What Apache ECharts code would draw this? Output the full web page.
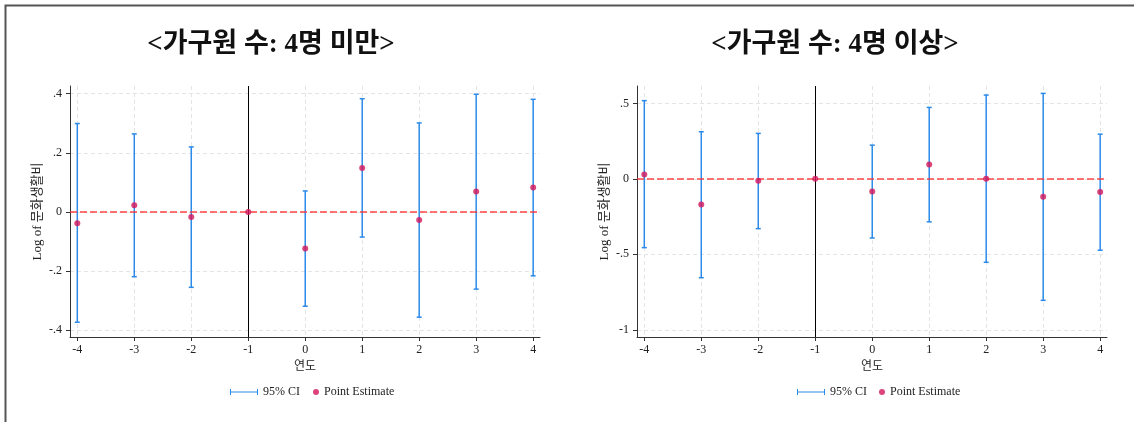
<!DOCTYPE html>
<html>
<head>
<meta charset="utf-8">
<script src="https://cdn.jsdelivr.net/npm/echarts@6/dist/echarts.min.js"></script>
<style>
  html, body { margin: 0; padding: 0; background: #fff; }
  #chart { width: 1134px; height: 422px; }
</style>
</head>
<body>
<div id="chart"></div>
<script>
// Event-study estimates of log cultural spending, by household size
const years = [-4, -3, -2, -1, 0, 1, 2, 3, 4];

// Households with fewer than 4 members
const estSmall = [-0.038, 0.023, -0.017, 0, -0.124, 0.149, -0.027, 0.069, 0.083];
const loSmall  = [-0.373, -0.219, -0.255, null, -0.319, -0.085, -0.356, -0.261, -0.216];
const hiSmall  = [0.299, 0.264, 0.220, null, 0.071, 0.383, 0.301, 0.398, 0.381];

// Households with 4 or more members
const estLarge = [0.029, -0.170, -0.013, 0, -0.084, 0.095, 0.001, -0.119, -0.088];
const loLarge  = [-0.456, -0.655, -0.330, null, -0.392, -0.285, -0.553, -0.805, -0.473];
const hiLarge  = [0.518, 0.312, 0.301, null, 0.223, 0.473, 0.555, 0.566, 0.296];

// Axis ticks and their labels
const xTicks = [-4, -3, -2, -1, 0, 1, 2, 3, 4];
const xTickLabels = ['-4', '-3', '-2', '-1', '0', '1', '2', '3', '4'];
const yTicksSmall = [-0.4, -0.2, 0, 0.2, 0.4];
const yTickLabelsSmall = ['-.4', '-.2', '0', '.2', '.4'];
const yTicksLarge = [-1, -0.5, 0, 0.5];
const yTickLabelsLarge = ['-1', '-.5', '0', '.5'];

const titles = ['<가구원 수: 4명 미만>', '<가구원 수: 4명 이상>'];
const yName = 'Log of 문화생활비';
const xName = '연도';
const ciName = '95% CI';
const pointName = 'Point Estimate';
const refYear = -1;

const SERIF = '"Liberation Serif", "Noto Sans CJK KR", serif';
const CI_COLOR = '#2b8ae8';
const PT_COLOR = '#d3155a';
const GRID_COLOR = '#e4e4e4';

function labelFor(ticks, labels) {
  return function (v) {
    const i = ticks.findIndex(t => Math.abs(t - v) < 1e-9);
    return i >= 0 ? labels[i] : '';
  };
}

function xAxisFor(gridIndex) {
  return {
    type: 'value', gridIndex,
    min: -4.128, max: 4.12,
    name: xName, nameLocation: 'middle', nameGap: 18,
    nameTextStyle: { fontFamily: SERIF, fontSize: 12, color: '#222' },
    axisLine: { show: true, onZero: false, lineStyle: { color: '#333', width: 1 } },
    axisTick: { show: true, length: 4, customValues: xTicks, lineStyle: { color: '#333' } },
    axisLabel: { customValues: xTicks, formatter: labelFor(xTicks, xTickLabels),
                 fontFamily: SERIF, fontSize: 12, color: '#222', margin: 7 },
    splitLine: { show: true, lineStyle: { color: GRID_COLOR, type: [4, 3], width: 1 } }
  };
}

function yAxisFor(gridIndex, min, max, ticks, labels) {
  return {
    type: 'value', gridIndex, min, max,
    name: yName, nameLocation: 'middle', nameGap: 26, nameRotate: 90,
    nameTextStyle: { fontFamily: SERIF, fontSize: 13, color: '#222' },
    axisLine: { show: true, onZero: false, lineStyle: { color: '#333', width: 1 } },
    axisTick: { show: true, length: 4, customValues: ticks, lineStyle: { color: '#333' } },
    axisLabel: { customValues: ticks, formatter: labelFor(ticks, labels),
                 fontFamily: SERIF, fontSize: 12, color: '#222', margin: 8 },
    splitLine: { show: true, lineStyle: { color: GRID_COLOR, type: [4, 3], width: 1 } }
  };
}

function ciData(lo, hi) {
  const out = [];
  years.forEach((y, i) => { if (lo[i] != null && hi[i] != null) out.push([y, lo[i], hi[i]]); });
  return out;
}

function renderCI(params, api) {
  const x = api.value(0);
  const pLo = api.coord([x, api.value(1)]);
  const pHi = api.coord([x, api.value(2)]);
  const cap = 2.5;
  const style = { stroke: CI_COLOR, lineWidth: 1.5 };
  return {
    type: 'group',
    children: [
      { type: 'line', shape: { x1: pLo[0], y1: pLo[1], x2: pHi[0], y2: pHi[1] }, style },
      { type: 'line', shape: { x1: pHi[0] - cap, y1: pHi[1], x2: pHi[0] + cap, y2: pHi[1] }, style },
      { type: 'line', shape: { x1: pLo[0] - cap, y1: pLo[1], x2: pLo[0] + cap, y2: pLo[1] }, style }
    ]
  };
}

function seriesFor(idx, est, lo, hi) {
  return [
    {
      name: ciName, type: 'custom', xAxisIndex: idx, yAxisIndex: idx,
      itemStyle: { color: CI_COLOR }, z: 3,
      renderItem: renderCI,
      encode: { x: 0, y: [1, 2] },
      data: ciData(lo, hi)
    },
    {
      name: pointName, type: 'scatter', xAxisIndex: idx, yAxisIndex: idx,
      symbol: 'circle', symbolSize: 6, z: 5,
      itemStyle: { color: PT_COLOR },
      data: years.map((y, i) => [y, est[i]]),
      markLine: {
        silent: true, symbol: 'none', label: { show: false }, z: 4,
        data: [
          { yAxis: 0, lineStyle: { color: 'rgba(255,40,40,0.85)', type: [7, 3], width: 1.5 } },
          { xAxis: refYear, lineStyle: { color: '#000', type: 'solid', width: 1 } }
        ]
      }
    }
  ];
}

const ciIcon = 'path://M0,0h1v6h-1z M1,2.4h26v1.2h-26z M27,0h1v6h-1z';

function legendItem(left, name, icon, w, h) {
  return {
    left, top: 381, itemWidth: w, itemHeight: h, itemGap: 0,
    icon, data: [name], selectedMode: false,
    textStyle: { fontFamily: SERIF, fontSize: 12, color: '#222' }
  };
}

const chart = echarts.init(document.getElementById('chart'), null, { renderer: 'canvas' });

chart.setOption({
  backgroundColor: '#fff',
  animation: false,
  title: [
    { text: titles[0], left: 266, top: 27, textAlign: 'center',
      textStyle: { fontFamily: SERIF, fontWeight: 'bold', fontSize: 27, color: '#111' } },
    { text: titles[1], left: 830, top: 27, textAlign: 'center',
      textStyle: { fontFamily: SERIF, fontWeight: 'bold', fontSize: 27, color: '#111' } }
  ],
  grid: [
    { left: 70, top: 86, width: 470, height: 251, outerBoundsMode: 'none' },
    { left: 637, top: 86, width: 470, height: 251, outerBoundsMode: 'none' }
  ],
  xAxis: [xAxisFor(0), xAxisFor(1)],
  yAxis: [
    yAxisFor(0, -0.423, 0.426, yTicksSmall, yTickLabelsSmall),
    yAxisFor(1, -1.048, 0.615, yTicksLarge, yTickLabelsLarge)
  ],
  legend: [
    legendItem(225, ciName, ciIcon, 28, 6),
    legendItem(308, pointName, 'circle', 6, 6),
    legendItem(792, ciName, ciIcon, 28, 6),
    legendItem(874, pointName, 'circle', 6, 6)
  ],
  graphic: [
    { type: 'polyline', silent: true,
      shape: { points: [[5.5, 422], [5.5, 5.5], [1134, 5.5]] },
      style: { stroke: '#555', lineWidth: 2, fill: null } }
  ],
  series: [
    ...seriesFor(0, estSmall, loSmall, hiSmall),
    ...seriesFor(1, estLarge, loLarge, hiLarge)
  ]
});
</script>
</body>
</html>
